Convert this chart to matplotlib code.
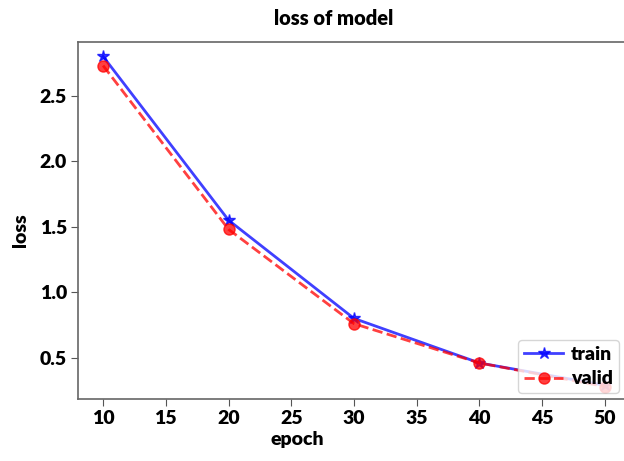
import matplotlib
matplotlib.use("Agg")
import matplotlib.pyplot as plt

epochs = [10, 20, 30, 40, 50]
train_loss = [2.80, 1.55, 0.80, 0.46, 0.29]
valid_loss = [2.73, 1.48, 0.76, 0.46, 0.28]
xticks = [10, 15, 20, 25, 30, 35, 40, 45, 50]
yticks = [0.5, 1.0, 1.5, 2.0, 2.5]

plt.rcParams['font.family'] = ['Lato', 'DejaVu Sans']
W = 'heavy'
plt.rcParams['font.weight'] = W

fig = plt.figure(figsize=(6.24, 4.61), dpi=100)
ax = fig.add_axes([78/624, 62/461, 552/624, 357/461])

ax.plot(epochs, train_loss, color='blue', linestyle='-', linewidth=2,
        marker='*', markersize=9, label='train', alpha=0.75)
ax.plot(epochs, valid_loss, color='red', linestyle='--', linewidth=2,
        marker='o', markersize=8, label='valid', alpha=0.75)

ax.set_xlim(8, 52)
ax.set_ylim(0.185, 2.91)
ax.set_xticks(xticks)
ax.set_yticks(yticks)
ax.tick_params(labelsize=14, length=5, color='#555555', pad=3)
for lab in ax.get_xticklabels() + ax.get_yticklabels():
    lab.set_fontweight(W)
ax.spines['right'].set_visible(False)
for s in ax.spines.values():
    s.set_color('#666666')
    s.set_linewidth(1.2)

ax.set_title('loss of model', fontsize=14.5, fontweight=W, x=0.463, pad=12)
ax.set_xlabel('epoch', fontsize=14, fontweight=W, x=0.398, labelpad=3)
ax.set_ylabel('loss', fontsize=14, fontweight=W, y=0.473, labelpad=8)

ax.legend(loc='lower right', handlelength=2, handletextpad=0.4,
          borderpad=0.3, labelspacing=0.4,
          bbox_to_anchor=(0.99, 0.0), borderaxespad=0.3,
          prop={'weight': W, 'size': 14})

fig.savefig('out.png', dpi=100)
